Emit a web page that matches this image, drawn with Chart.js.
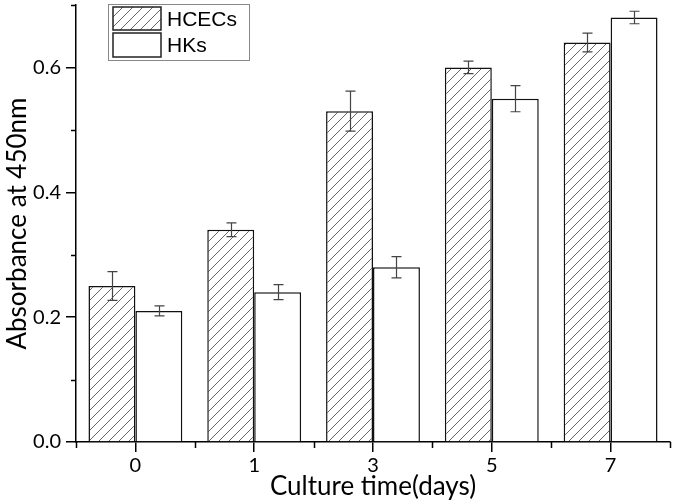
<!DOCTYPE html>
<html><head><meta charset="utf-8">
<script src="https://cdn.jsdelivr.net/npm/chart.js@4"></script>
<style>html,body{margin:0;padding:0;background:#fff}#wrap{width:675px;height:503px;position:relative}</style>
</head><body><div id="wrap"><canvas id="c" width="675" height="503"></canvas></div>
<script>
const categories = ['0', '1', '3', '5', '7'];
const hcecs = [0.25, 0.34, 0.53, 0.60, 0.64];
const hcecsErr = [0.023, 0.011, 0.032, 0.010, 0.015];
const hks = [0.21, 0.24, 0.28, 0.55, 0.68];
const hksErr = [0.008, 0.012, 0.017, 0.021, 0.010];
const yTicks = [0, 0.2, 0.4, 0.6];
const yMinorTicks = [0.1, 0.3, 0.5, 0.7];

function makeHatch() {
  const p = document.createElement('canvas');
  p.width = 10; p.height = 10;
  const g = p.getContext('2d');
  g.fillStyle = '#fff'; g.fillRect(0, 0, 10, 10);
  g.strokeStyle = '#666'; g.lineWidth = 1;
  g.beginPath();
  g.moveTo(-1, 11); g.lineTo(11, -1);
  g.moveTo(-6, 6); g.lineTo(6, -6);
  g.moveTo(4, 16); g.lineTo(16, 4);
  g.stroke();
  return g.createPattern(p, 'repeat');
}
const ctx = document.getElementById('c').getContext('2d');
const hatch = makeHatch();

const errorBars = {
  id: 'errorBars',
  afterDatasetsDraw(chart) {
    const c = chart.ctx, y = chart.scales.y;
    const errs = [hcecsErr, hksErr];
    c.save();
    c.strokeStyle = '#444'; c.lineWidth = 1.2;
    chart.data.datasets.forEach((ds, di) => {
      const meta = chart.getDatasetMeta(di);
      meta.data.forEach((bar, i) => {
        const v = ds.data[i], e = errs[di][i];
        const x = Math.round(bar.x) + 0.5;
        const t = y.getPixelForValue(v + e), b = y.getPixelForValue(v - e);
        c.beginPath();
        c.moveTo(x, t); c.lineTo(x, b);
        c.moveTo(x - 5, t); c.lineTo(x + 5, t);
        c.moveTo(x - 5, b); c.lineTo(x + 5, b);
        c.stroke();
      });
    });
    c.restore();
  }
};

const extras = {
  id: 'extras',
  afterDraw(chart) {
    const c = chart.ctx, y = chart.scales.y, x = chart.scales.x, ca = chart.chartArea;
    c.save();
    c.strokeStyle = '#000'; c.lineWidth = 1.5;
    c.beginPath();
    yMinorTicks.forEach(v => {
      const py = Math.round(y.getPixelForValue(v)) + 0.5;
      c.moveTo(ca.left - 5, py); c.lineTo(ca.left, py);
    });
    const n = categories.length;
    for (let i = 0; i <= n; i++) {
      const px = Math.round(x.getPixelForValue(i - 0.5)) + 0.5;
      c.moveTo(px, ca.bottom); c.lineTo(px, ca.bottom + 6);
    }
    c.stroke();
    // legend
    c.strokeStyle = '#888'; c.lineWidth = 1;
    c.strokeRect(108.5, 4.5, 141, 56);
    c.fillStyle = hatch; c.fillRect(113, 7, 48, 23);
    c.fillStyle = '#fff'; c.fillRect(113, 33, 48, 24);
    c.strokeStyle = '#222'; c.lineWidth = 1.5;
    c.strokeRect(113, 7, 48, 23);
    c.strokeRect(113, 33, 48, 24);
    c.fillStyle = '#000';
    c.font = '21px "Liberation Sans", Arial, sans-serif';
    c.textBaseline = 'middle'; c.textAlign = 'left';
    c.fillText(chart.data.datasets[0].label, 167, 20);
    c.fillText(chart.data.datasets[1].label, 167, 46);
    c.restore();
  }
};

new Chart(ctx, {
  type: 'bar',
  data: {
    labels: categories,
    datasets: [
      { label: 'HCECs', data: hcecs, backgroundColor: hatch, borderColor: '#111', borderWidth: 1.5 },
      { label: 'HKs', data: hks, backgroundColor: '#fff', borderColor: '#111', borderWidth: 1.5 }
    ]
  },
  options: {
    responsive: false,
    animation: false,
    layout: { padding: { top: 5, right: 5, left: 0, bottom: 0 } },
    plugins: { legend: { display: false }, tooltip: { enabled: false } },
    datasets: { bar: { categoryPercentage: 0.79, barPercentage: 1.0 } },
    scales: {
      x: {
        afterFit(s) { s.height = 61; s.paddingLeft = 0; s.paddingRight = 0; },
        grid: { display: true, drawOnChartArea: false, drawTicks: true, tickLength: 10, color: '#000', lineWidth: 1.5, offset: false },
        border: { display: true, color: '#000', width: 1.5 },
        ticks: { color: '#000', font: { family: 'Lato', size: 20 }, padding: 2 },
        title: { display: true, text: 'Culture time(days)', color: '#000', font: { family: 'Lato', size: 26 }, padding: { top: 0, bottom: 1 } }
      },
      y: {
        min: 0, max: 0.7,
        afterFit(s) { s.width = 76; s.paddingTop = 0; s.paddingBottom = 0; },
        afterBuildTicks(s) { s.ticks = yTicks.map(v => ({ value: v })); },
        grid: { display: true, drawOnChartArea: false, drawTicks: true, tickLength: 10, color: '#000', lineWidth: 1.5 },
        border: { display: true, color: '#000', width: 1.5 },
        ticks: { color: '#000', font: { family: 'Lato', size: 20 }, padding: 5, callback: v => Number(v).toFixed(1) },
        title: { display: true, text: 'Absorbance at 450nm', color: '#000', font: { family: 'Lato', size: 26 }, padding: { top: 2, bottom: 0 } }
      }
    }
  },
  plugins: [errorBars, extras]
});
</script></body></html>
